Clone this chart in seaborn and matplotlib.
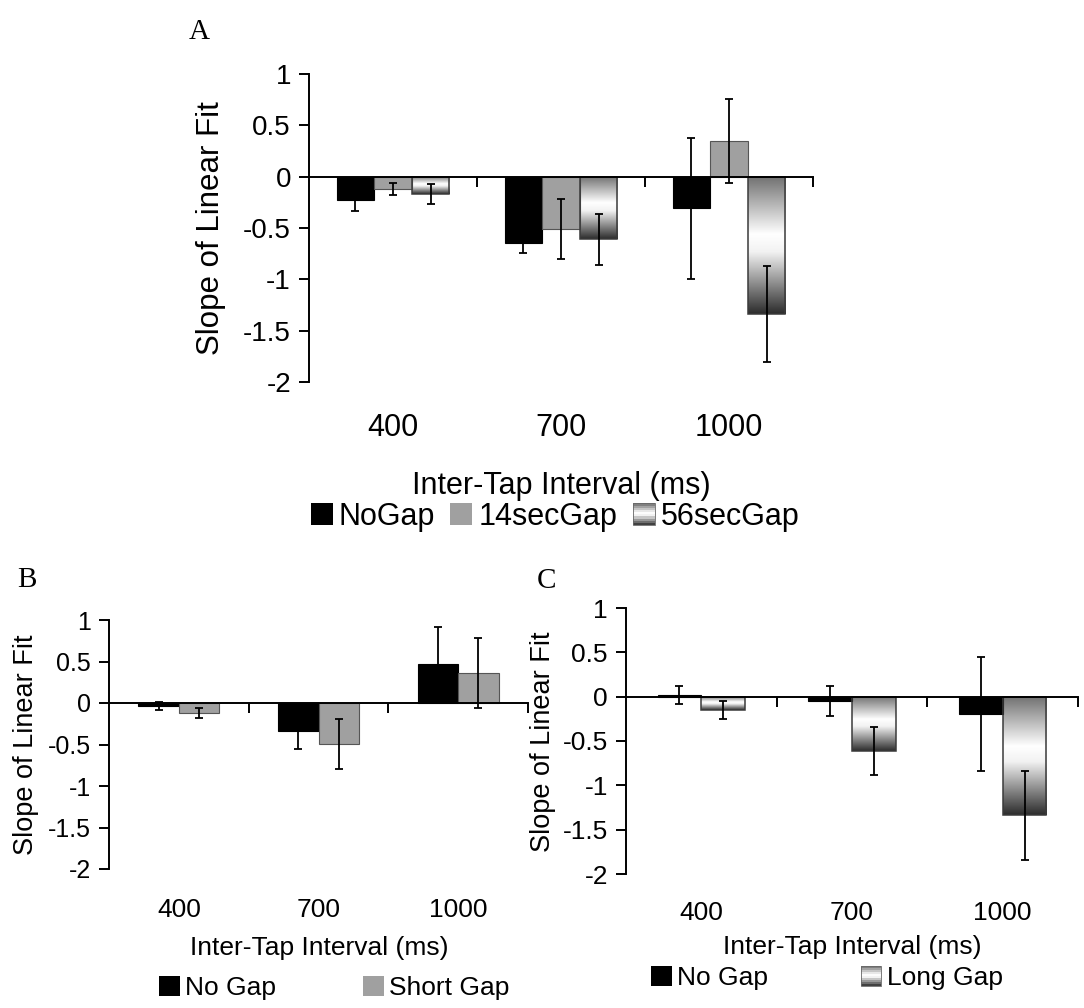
import numpy as np
import pandas as pd
import matplotlib
matplotlib.use("Agg")
import matplotlib.pyplot as plt
import matplotlib.transforms as mtransforms
from matplotlib.colors import LinearSegmentedColormap
from matplotlib.patches import Patch, Rectangle
from matplotlib.legend_handler import HandlerBase
import seaborn as sns

# ---------------- data ----------------
intervals = ["400", "700", "1000"]

# Panel A: three gap conditions
a_conditions = ["NoGap", "14secGap", "56secGap"]
a_nogap = [-0.23, -0.65, -0.31]
a_nogap_err = [0.10, 0.09, 0.69]
a_14sec = [-0.12, -0.51, 0.35]
a_14sec_err = [0.06, 0.29, 0.41]
a_56sec = [-0.17, -0.61, -1.34]
a_56sec_err = [0.10, 0.25, 0.47]

# Panel B: no gap vs short gap
b_conditions = ["No Gap", "Short Gap"]
b_nogap = [-0.04, -0.34, 0.47]
b_nogap_err = [0.05, 0.21, 0.44]
b_short = [-0.12, -0.49, 0.36]
b_short_err = [0.06, 0.30, 0.42]

# Panel C: no gap vs long gap
c_conditions = ["No Gap", "Long Gap"]
c_nogap = [0.02, -0.05, -0.195]
c_nogap_err = [0.10, 0.165, 0.645]
c_long = [-0.15, -0.61, -1.34]
c_long_err = [0.10, 0.27, 0.50]

y_ticks = [-2, -1.5, -1, -0.5, 0, 0.5, 1]
y_ticklabels = ["-2", "-1.5", "-1", "-0.5", "0", "0.5", "1"]

# ---------------- style ----------------
sns.set_theme(style="ticks")
plt.rcParams["font.family"] = ["Liberation Sans", "DejaVu Sans"]

W, H = 1084, 1008
fig = plt.figure(figsize=(W / 100, H / 100), dpi=100)

BLACK = "#000000"
GRAY = "#a0a0a0"
grad_cmap = LinearSegmentedColormap.from_list(
    "bar_grad",
    [(0.0, "#707070"), (0.42, "#ffffff"), (0.55, "#f2f2f2"), (1.0, "#2c2c2c")],
)


class GradientHandler(HandlerBase):
    """Legend key drawn as a stack of horizontal stripes of the bar gradient."""

    def create_artists(self, legend, orig_handle, xdescent, ydescent,
                       width, height, fontsize, trans):
        n = 10
        arts = []
        x0, y0 = -xdescent, -ydescent
        for k in range(n):
            frac = 1 - (k + 0.5) / n
            r = Rectangle((x0, y0 + k * height / n), width, height / n,
                          facecolor=grad_cmap(frac), edgecolor="none",
                          transform=trans)
            arts.append(r)
        frame = Rectangle((x0, y0), width, height, facecolor="none",
                          edgecolor="#666666", linewidth=0.6, transform=trans)
        arts.append(frame)
        return arts


def px_fig(x, y):
    return x / W, 1 - y / H


def draw_panel(rect, conditions, values, errors, colors, gradient_last,
               group_width, tick_fs, cat_fs, cat_y, xlabel_xy, label_fs,
               ylabel_xy, legend_xy, legend_kw, letter, letter_xy):
    ax = fig.add_axes(rect)
    df = pd.DataFrame({
        "interval": np.tile(intervals, len(conditions)),
        "condition": np.repeat(conditions, len(intervals)),
        "slope": np.concatenate(values),
    })
    sns.barplot(data=df, x="interval", y="slope", hue="condition",
                order=intervals, hue_order=conditions,
                palette=dict(zip(conditions, colors)), saturation=1,
                width=group_width, errorbar=None, legend=False, ax=ax,
                linewidth=0)

    for i, (cont, vals, errs) in enumerate(zip(ax.containers, values, errors)):
        is_grad = gradient_last and i == len(conditions) - 1
        for p in cont:
            if colors[i] == BLACK:
                p.set_edgecolor(BLACK)
                p.set_linewidth(0.8)
            elif is_grad:
                p.set_facecolor("none")
                p.set_edgecolor("#3a3a3a")
                p.set_linewidth(1.1)
                x0 = p.get_x()
                x1 = x0 + p.get_width()
                y_a = p.get_y()
                y_b = y_a + p.get_height()
                ytop, ybot = max(y_a, y_b), min(y_a, y_b)
                grad = np.linspace(0, 1, 256).reshape(-1, 1)
                im = ax.imshow(grad, cmap=grad_cmap, aspect="auto",
                               extent=[x0, x1, ybot, ytop], origin="upper",
                               zorder=p.get_zorder() - 0.05, vmin=0, vmax=1,
                               interpolation="bilinear")
                im.set_clip_path(p)
            else:
                p.set_edgecolor("#555555")
                p.set_linewidth(0.8)
        xs = [p.get_x() + p.get_width() / 2 for p in cont]
        ax.errorbar(xs, vals, yerr=errs, fmt="none", ecolor="black",
                    elinewidth=1.3, capsize=3, capthick=1.3, zorder=5)

    ax.set_xlim(-0.5, len(intervals) - 0.5)
    ax.set_ylim(-2, 1)
    ax.set_yticks(y_ticks)
    ax.set_yticklabels(y_ticklabels, fontsize=tick_fs)
    ax.set_xticks([k + 0.5 for k in range(len(intervals))])
    ax.set_xticklabels([])
    ax.set_xlabel("")
    ax.set_ylabel("")
    ax.spines["top"].set_visible(False)
    ax.spines["right"].set_visible(False)
    ax.spines["bottom"].set_position(("data", 0))
    for s in ("left", "bottom"):
        ax.spines[s].set_linewidth(1.4)
        ax.spines[s].set_color("black")
        ax.spines[s].set_zorder(6)
    ax.tick_params(axis="y", direction="out", length=7, width=1.4,
                   pad=6, colors="black", labelcolor="black")
    ax.tick_params(axis="x", direction="out", length=7, width=1.4,
                   colors="black", labelbottom=False)
    ax.set_facecolor("white")

    # category labels beneath the plotting area
    tr = mtransforms.blended_transform_factory(ax.transData, fig.transFigure)
    for k, lab in enumerate(intervals):
        ax.text(k, 1 - cat_y / H, lab, transform=tr, ha="center",
                va="center", fontsize=cat_fs, color="black")

    fig.text(*px_fig(*xlabel_xy), "Inter-Tap Interval (ms)", ha="center",
             va="center", fontsize=label_fs, color="black")
    fig.text(*px_fig(*ylabel_xy), "Slope of Linear Fit", ha="center",
             va="center", rotation=90, fontsize=label_fs + 0.5, color="black")
    fig.text(*px_fig(*letter_xy), letter, ha="center", va="center",
             fontsize=21, family="Liberation Serif", color="black")

    handles = []
    handler_map = {}
    for i, (cond, col) in enumerate(zip(conditions, colors)):
        if gradient_last and i == len(conditions) - 1:
            h = Patch(facecolor="white", label=cond)
            handler_map[h] = GradientHandler()
        else:
            h = Patch(facecolor=col, edgecolor="none", label=cond)
        handles.append(h)
    leg = fig.legend(handles=handles, loc="center",
                     bbox_to_anchor=px_fig(*legend_xy),
                     bbox_transform=fig.transFigure, ncol=len(conditions),
                     frameon=False, borderpad=0, handler_map=handler_map,
                     **legend_kw)
    for t in leg.get_texts():
        t.set_color("black")
    return ax


# Panel A
draw_panel(
    rect=[309 / W, 1 - 382 / H, (813 - 309) / W, (382 - 74) / H],
    conditions=a_conditions,
    values=[a_nogap, a_14sec, a_56sec],
    errors=[a_nogap_err, a_14sec_err, a_56sec_err],
    colors=[BLACK, GRAY, "white"], gradient_last=True,
    group_width=0.67, tick_fs=20, cat_fs=22, cat_y=428,
    xlabel_xy=(561, 486), label_fs=22, ylabel_xy=(211, 228),
    legend_xy=(555, 517),
    legend_kw=dict(fontsize=22, handlelength=0.72, handleheight=0.72,
                   handletextpad=0.2, columnspacing=0.5),
    letter="A", letter_xy=(199, 32),
)

# Panel B
draw_panel(
    rect=[109 / W, 1 - 869 / H, (528 - 109) / W, (869 - 620) / H],
    conditions=b_conditions,
    values=[b_nogap, b_short],
    errors=[b_nogap_err, b_short_err],
    colors=[BLACK, GRAY], gradient_last=False,
    group_width=0.58, tick_fs=18, cat_fs=19, cat_y=910,
    xlabel_xy=(319, 948), label_fs=19, ylabel_xy=(26, 745),
    legend_xy=(334, 988),
    legend_kw=dict(fontsize=19, handlelength=0.8, handleheight=0.8,
                   handletextpad=0.18, columnspacing=3.3),
    letter="B", letter_xy=(27, 580),
)

# Panel C
draw_panel(
    rect=[626 / W, 1 - 874 / H, (1078 - 626) / W, (874 - 608) / H],
    conditions=c_conditions,
    values=[c_nogap, c_long],
    errors=[c_nogap_err, c_long_err],
    colors=[BLACK, "white"], gradient_last=True,
    group_width=0.58, tick_fs=19, cat_fs=19, cat_y=913,
    xlabel_xy=(852, 947), label_fs=19, ylabel_xy=(543, 742),
    legend_xy=(827, 978),
    legend_kw=dict(fontsize=19, handlelength=0.78, handleheight=0.78,
                   handletextpad=0.2, columnspacing=3.5),
    letter="C", letter_xy=(546, 581),
)

fig.savefig("out.png", dpi=100, facecolor="white")
